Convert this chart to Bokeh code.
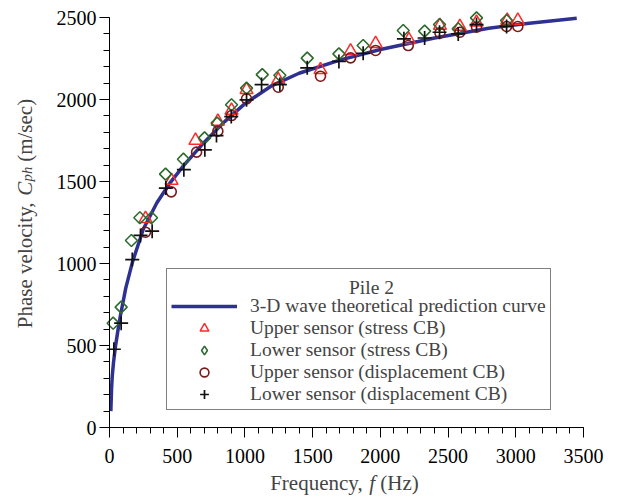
import math
from bokeh.plotting import figure
from bokeh.models import Range1d, FixedTicker, Legend, LegendItem, Label
from bokeh.embed import file_html
from bokeh.resources import INLINE

# ---------------- data ----------------
curve_f = [10, 15, 20, 30, 45, 60, 80, 120, 170, 250, 350, 450, 550, 700, 850, 1000,
           1200, 1400, 1700, 2000, 2400, 2800, 3100, 3450]
curve_c = [100, 230, 310, 400, 500, 580, 680, 850, 1010, 1210, 1370, 1495, 1600, 1740,
           1865, 1975, 2085, 2160, 2240, 2305, 2375, 2435, 2465, 2495]

up_stress_f = [266, 458, 635, 800, 901, 1012, 1246, 1558, 1780, 1965, 2211, 2440, 2587, 2710, 2937, 3015]
up_stress_c = [1273, 1506, 1750, 1866, 1933, 2059, 2120, 2181, 2295, 2340, 2364, 2451, 2445, 2471, 2482, 2482]

lo_stress_f = [27, 86, 162, 224, 310, 414, 546, 702, 795, 901, 1012, 1128, 1258, 1460, 1694, 1873,
               2169, 2327, 2437, 2575, 2710, 2932]
lo_stress_c = [636, 734, 1140, 1279, 1279, 1545, 1636, 1766, 1856, 1968, 2069, 2152, 2148, 2252, 2278, 2329,
               2421, 2417, 2457, 2431, 2498, 2482]

up_disp_f = [266, 456, 643, 800, 901, 1012, 1246, 1558, 1780, 1965, 2206, 2440, 2587, 2710, 2932, 3015]
up_disp_c = [1191, 1437, 1679, 1807, 1902, 2004, 2075, 2142, 2254, 2299, 2329, 2406, 2410, 2441, 2445, 2445]

lo_disp_f = [32, 86, 168, 229, 315, 416, 549, 704, 790, 899, 1012, 1123, 1258, 1460, 1694, 1873,
             2174, 2327, 2437, 2575, 2710, 2932]
lo_disp_c = [477, 636, 1024, 1171, 1197, 1460, 1572, 1693, 1780, 1896, 1998, 2091, 2091, 2193, 2232, 2282,
             2370, 2375, 2410, 2400, 2457, 2445]

x_ticks = [0, 500, 1000, 1500, 2000, 2500, 3000, 3500]
x_tick_labels = ["0", "500", "1000", "1500", "2000", "2500", "3000", "3500"]
y_ticks = [0, 500, 1000, 1500, 2000, 2500]
y_tick_labels = ["0", "500", "1000", "1500", "2000", "2500"]

legend_title = "Pile 2"
legend_labels = ["3-D wave theoretical prediction curve",
                 "Upper sensor (stress CB)",
                 "Lower sensor (stress CB)",
                 "Upper sensor (displacement CB)",
                 "Lower sensor (displacement CB)"]

# ---------------- layout (pixels of the 623x500 canvas) ----------------
W, H = 623, 500
AX_L, AX_R, AX_T, AX_B = 109, 583, 17, 427     # where 0..3500 and 0..2500 fall
XMIN, XMAX, YMIN, YMAX = 0, 3500, 0, 2500
SERIF = "Liberation Serif"

sx = (AX_R - AX_L) / (XMAX - XMIN)
sy = (AX_B - AX_T) / (YMAX - YMIN)
x_start = XMIN - AX_L / sx
x_end = XMAX + (W - AX_R) / sx
y_start = YMIN - (H - AX_B) / sy
y_end = YMAX + AX_T / sy


def px_to_x(px):
    return x_start + px / sx


def py_to_y(py):
    return y_start + (H - py) / sy


p = figure(width=W, height=H, min_border=0,
           x_range=Range1d(x_start, x_end), y_range=Range1d(y_start, y_end),
           output_backend="svg", toolbar_location=None)
p.xgrid.visible = False
p.ygrid.visible = False
p.outline_line_color = None
p.background_fill_color = "white"
p.border_fill_color = "white"

for ax, ticks, labels, bnd, stand in ((p.xaxis[0], x_ticks, x_tick_labels, (XMIN, XMAX), 11),
                                      (p.yaxis[0], y_ticks, y_tick_labels, (YMIN, YMAX), 3)):
    ax.fixed_location = 0
    ax.ticker = FixedTicker(ticks=ticks, minor_ticks=list(range(bnd[0], bnd[1] + 1, 100)))
    ax.major_label_overrides = {t: l for t, l in zip(ticks, labels)}
    ax.bounds = bnd
    ax.major_tick_in = 0
    ax.major_tick_out = 10
    ax.minor_tick_in = 0
    ax.minor_tick_out = 6
    ax.axis_line_color = "black"
    ax.major_tick_line_color = "black"
    ax.minor_tick_line_color = "black"
    ax.major_label_text_font = SERIF
    ax.major_label_text_font_size = "20px"
    ax.major_label_text_color = "black"
    ax.major_label_standoff = stand

r_line = p.line(curve_f, curve_c, line_color="#2E3192", line_width=3.5)
r_tri = p.scatter(up_stress_f, up_stress_c, marker="triangle", size=13,
                  line_color="#FF2A2A", fill_color=None, line_width=1.5)
r_dia = p.scatter(lo_stress_f, lo_stress_c, marker="square", angle=math.pi / 4, size=8.5,
                  line_color="#2E6B2E", fill_color=None, line_width=1.6)
r_cir = p.scatter(up_disp_f, up_disp_c, marker="circle", size=10,
                  line_color="#7A1A1A", fill_color=None, line_width=1.6)
r_plus = p.scatter(lo_disp_f, lo_disp_c, marker="cross", size=14,
                   line_color="#111111", line_width=1.7)
# legend swatch for the diamond series (same style; its single point is NaN, so it is drawn only in the legend)
r_dia_key = p.scatter(x=[float("nan")], y=[float("nan")], marker="diamond", size=8.5,
                      line_color="#2E6B2E", fill_color=None, line_width=1.6)

# title of the legend drawn first, centred; legend box is transparent (nothing lies under it)
p.add_layout(Label(x=px_to_x(371), y=py_to_y(287), text=legend_title, text_font=SERIF,
                   text_font_size="19.5px", text_align="center", text_baseline="middle"))
legend = Legend(items=[LegendItem(label=lab, renderers=[r])
                       for lab, r in zip(legend_labels, [r_line, r_tri, r_dia_key, r_cir, r_plus])],
                location=(166, H - 410), title=" ",
                title_text_font=SERIF, title_text_font_size="19.5px", title_text_font_style="normal",
                title_standoff=0,
                label_text_font=SERIF, label_text_font_size="19.5px",
                glyph_width=66, glyph_height=22, label_height=22, label_standoff=13,
                spacing=0, padding=4, margin=0,
                border_line_color="black", border_line_width=1,
                background_fill_alpha=0.0)
p.add_layout(legend)

# axis titles (mixed roman / italic); BASE_FIX compensates Bokeh's baseline placement
BASE_FIX = 9
F = 21
em = F
# x label: "Frequency, f (Hz)"
xl_start = 344 - 7.08 * em / 2
xl_base = 491 - BASE_FIX
p.add_layout(Label(x=px_to_x(xl_start), y=py_to_y(xl_base), text="Frequency,",
                   text_font=SERIF, text_font_size=f"{F}px", text_baseline="alphabetic", text_align="left"))
p.add_layout(Label(x=px_to_x(xl_start + 4.72 * em), y=py_to_y(xl_base), text="f",
                   text_font=SERIF, text_font_style="italic", text_font_size=f"{F}px",
                   text_baseline="alphabetic", text_align="left"))
p.add_layout(Label(x=px_to_x(xl_start + 5.248 * em), y=py_to_y(xl_base), text="(Hz)",
                   text_font=SERIF, text_font_size=f"{F}px", text_baseline="alphabetic", text_align="left"))

# y label: "Phase velocity, C_ph (m/sec)" rotated
yl_center = 213
yl_start = yl_center + 10.922 * em / 2
yl_base = 33 - BASE_FIX
rot = math.pi / 2
p.add_layout(Label(x=px_to_x(yl_base), y=py_to_y(yl_start), text="Phase velocity,", angle=rot,
                   text_font=SERIF, text_font_size=f"{F}px", text_baseline="alphabetic", text_align="left"))
p.add_layout(Label(x=px_to_x(yl_base), y=py_to_y(yl_start - 6.305 * em), text="C", angle=rot,
                   text_font=SERIF, text_font_style="italic", text_font_size=f"{F}px",
                   text_baseline="alphabetic", text_align="left"))
p.add_layout(Label(x=px_to_x(yl_base + 0.12 * em), y=py_to_y(yl_start - 6.99 * em), text="ph", angle=rot,
                   text_font=SERIF, text_font_style="italic", text_font_size=f"{0.7 * F:.1f}px",
                   text_baseline="alphabetic", text_align="left"))
p.add_layout(Label(x=px_to_x(yl_base), y=py_to_y(yl_start - 7.922 * em), text="(m/sec)", angle=rot,
                   text_font=SERIF, text_font_size=f"{F}px", text_baseline="alphabetic", text_align="left"))

open("out.html", "w").write(file_html(p, INLINE))
